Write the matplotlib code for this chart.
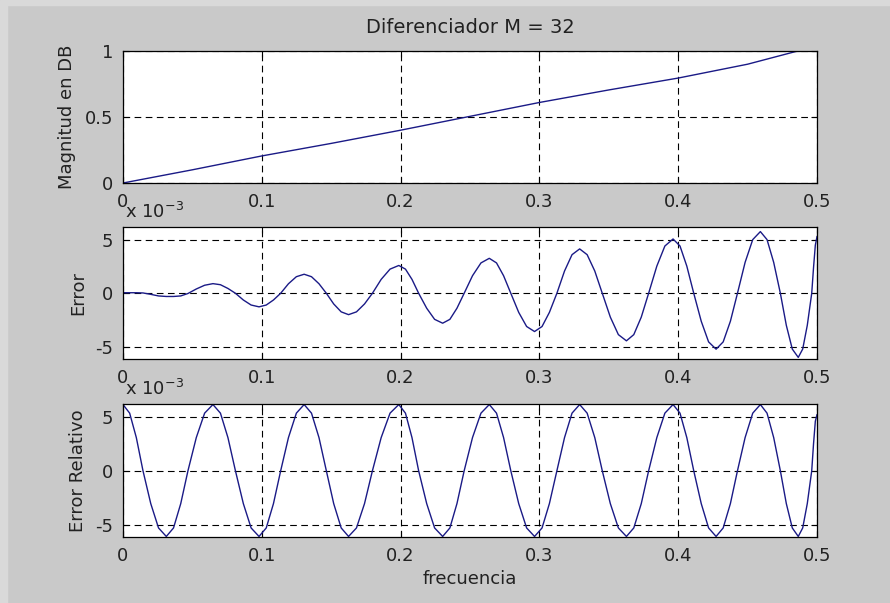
import matplotlib
matplotlib.use('Agg')
import matplotlib.pyplot as plt
from matplotlib.patches import Rectangle

# Frequency axis shared by the error curves (normalised frequency)
freq = [0, 0.0048, 0.0096, 0.0144, 0.02, 0.0256, 0.0312, 0.0364, 0.0416, 0.0468,
        0.0528, 0.0588, 0.0648, 0.0702, 0.0756, 0.081, 0.0867, 0.0923, 0.098, 0.1032,
        0.1084, 0.1136, 0.1192, 0.1249, 0.1305, 0.1358, 0.1412, 0.1465, 0.1518, 0.1572,
        0.1625, 0.1682, 0.174, 0.1797, 0.186, 0.1924, 0.1987, 0.2035, 0.2082, 0.213,
        0.2188, 0.2245, 0.2303, 0.2355, 0.2406, 0.2458, 0.2518, 0.2579, 0.2639, 0.2691,
        0.2742, 0.2794, 0.2851, 0.2908, 0.2965, 0.3019, 0.3072, 0.3126, 0.3181, 0.3235,
        0.329, 0.3344, 0.3399, 0.3453, 0.3511, 0.3569, 0.3627, 0.368, 0.3734, 0.3787,
        0.3846, 0.3904, 0.3963, 0.4013, 0.4062, 0.4112, 0.4166, 0.4219, 0.4273, 0.4324,
        0.4376, 0.4427, 0.4482, 0.4537, 0.4592, 0.464, 0.4688, 0.4736, 0.4779, 0.4822,
        0.4865, 0.4897, 0.493, 0.4962, 0.4975, 0.4988, 0.5]

# Error (units of 1e-3)
error = [0.05, 0.05, 0.05, 0.03, -0.1, -0.25, -0.3, -0.3, -0.25, -0.02,
         0.4, 0.75, 0.9, 0.8, 0.45, 0.0, -0.63, -1.1, -1.27, -1.1,
         -0.63, 0.0, 0.89, 1.55, 1.78, 1.55, 0.89, 0.0, -1.0, -1.74,
         -2.0, -1.74, -1.0, 0.0, 1.3, 2.26, 2.6, 2.26, 1.3, 0.0,
         -1.4, -2.44, -2.8, -2.44, -1.4, 0.0, 1.64, 2.84, 3.27, 2.84,
         1.64, 0.0, -1.79, -3.11, -3.58, -3.11, -1.79, 0.0, 2.08, 3.61,
         4.15, 3.61, 2.08, 0.0, -2.23, -3.87, -4.45, -3.87, -2.23, 0.0,
         2.54, 4.42, 5.08, 4.42, 2.54, 0.0, -2.62, -4.55, -5.23, -4.55,
         -2.62, 0.0, 2.89, 5.02, 5.77, 5.02, 2.89, 0.0, -3.0, -5.22,
         -6.0, -5.22, -3.0, 0.0, 2.4, 4.5, 5.3]

# Relative error (units of 1e-3)
rel_error = [6.15, 5.35, 3.08, 0.0, -3.05, -5.31, -6.1, -5.31, -3.05, 0.0,
             3.08, 5.35, 6.15, 5.35, 3.08, 0.0, -3.05, -5.31, -6.1, -5.31,
             -3.05, 0.0, 3.08, 5.35, 6.15, 5.35, 3.08, 0.0, -3.05, -5.31,
             -6.1, -5.31, -3.05, 0.0, 3.08, 5.35, 6.15, 5.35, 3.08, 0.0,
             -3.05, -5.31, -6.1, -5.31, -3.05, 0.0, 3.08, 5.35, 6.15, 5.35,
             3.08, 0.0, -3.05, -5.31, -6.1, -5.31, -3.05, 0.0, 3.08, 5.35,
             6.15, 5.35, 3.08, 0.0, -3.05, -5.31, -6.1, -5.31, -3.05, 0.0,
             3.08, 5.35, 6.15, 5.35, 3.08, 0.0, -3.05, -5.31, -6.1, -5.31,
             -3.05, 0.0, 3.08, 5.35, 6.15, 5.35, 3.08, 0.0, -3.05, -5.31,
             -6.1, -5.31, -3.05, 0.0, 2.5, 4.6, 5.2]

# Magnitude response
mag_freq = [0, 0.05, 0.1, 0.15, 0.2, 0.25, 0.3, 0.35, 0.4, 0.45, 0.485, 0.5]
magnitude = [0, 0.1, 0.205, 0.3, 0.4, 0.505, 0.61, 0.705, 0.795, 0.9, 0.997, 1.0]

x_ticks = [0, 0.1, 0.2, 0.3, 0.4, 0.5]
x_ticklabels = ['0', '0.1', '0.2', '0.3', '0.4', '0.5']

plt.rcParams['font.family'] = ['DejaVu Sans']
plt.rcParams['font.size'] = 13

bg = '#c9c9c9'
line_color = '#1a1a86'
text_color = '#222222'

fig = plt.figure(figsize=(8.9, 6.03), dpi=100, facecolor=bg)
fig.patches.append(Rectangle((0, 1 - 5 / 603), 1, 5 / 603, transform=fig.transFigure,
                             color='#d9d9d9', zorder=0))
fig.patches.append(Rectangle((0, 0), 7 / 890, 1, transform=fig.transFigure,
                             color='#d9d9d9', zorder=0))

left, width = 123 / 890, 694 / 890
ax1 = fig.add_axes([left, 1 - 183 / 603, width, 132 / 603])
ax2 = fig.add_axes([left, 1 - 359 / 603, width, 132 / 603])
ax3 = fig.add_axes([left, 1 - 537 / 603, width, 133 / 603])


def style(ax):
    ax.set_facecolor('white')
    ax.set_xlim(0, 0.5)
    ax.set_xticks(x_ticks)
    ax.set_xticklabels(x_ticklabels)
    ax.grid(True, color='black', linestyle=(0, (6, 4)), linewidth=0.8)
    ax.tick_params(direction='in', top=True, right=True, length=4, width=0.8,
                   colors='black', labelcolor=text_color, labelsize=13, pad=7)
    for s in ax.spines.values():
        s.set_linewidth(0.9)
        s.set_color('black')


ax1.plot(mag_freq, magnitude, color=line_color, linewidth=1.0)
style(ax1)
ax1.set_ylim(0, 1)
ax1.set_yticks([0, 0.5, 1])
ax1.set_yticklabels(['0', '0.5', '1'])
ax1.set_ylabel('Magnitud en DB', color=text_color, labelpad=6)
ax1.set_title('Diferenciador M = 32', color=text_color, fontsize=14, pad=13)

ax2.plot(freq, error, color=line_color, linewidth=1.0)
style(ax2)
ax2.set_ylim(-6.15, 6.2)
ax2.set_yticks([-5, 0, 5])
ax2.set_yticklabels(['-5', '0', '5'])
ax2.set_ylabel('Error', color=text_color, labelpad=6)
ax2.text(0.003, 1.04, r'x 10$^{\mathregular{-3}}$', transform=ax2.transAxes,
         color=text_color, fontsize=13, ha='left', va='bottom')

ax3.plot(freq, rel_error, color=line_color, linewidth=1.0)
style(ax3)
ax3.set_ylim(-6.15, 6.2)
ax3.set_yticks([-5, 0, 5])
ax3.set_yticklabels(['-5', '0', '5'])
ax3.set_ylabel('Error Relativo', color=text_color, labelpad=6)
ax3.set_xlabel('frecuencia', color=text_color, labelpad=4)
ax3.text(0.003, 1.04, r'x 10$^{\mathregular{-3}}$', transform=ax3.transAxes,
         color=text_color, fontsize=13, ha='left', va='bottom')

fig.savefig('out.png', dpi=100, facecolor=bg)
